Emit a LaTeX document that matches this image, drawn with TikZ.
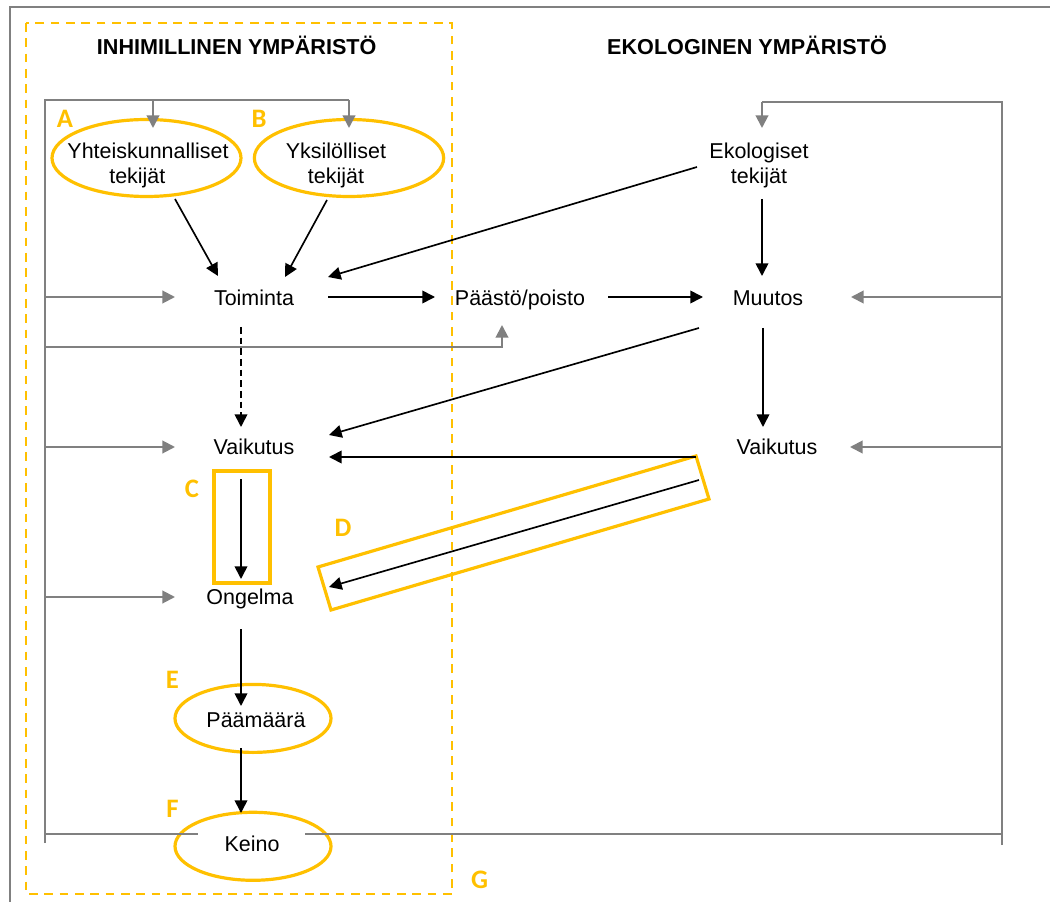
\documentclass[tikz,border=0pt]{standalone}
\usepackage{fontspec}
\setmainfont{Liberation Sans}
\newfontfamily\lblfont{Carlito}
\usetikzlibrary{arrows.meta,calc,shapes.geometric}
\definecolor{ygold}{HTML}{FFC000}
\definecolor{ggray}{HTML}{808080}
\begin{document}
\begin{tikzpicture}[x=0.75pt,y=-0.75pt,
  txt/.style={font=\fontsize{16.1}{18.75}\selectfont, inner sep=0pt, anchor=base},
  txtii/.style={font=\fontsize{16.1}{18.75}\selectfont, inner sep=0pt, align=center, anchor=center},
  ttl/.style={font=\bfseries\fontsize{16.2}{19}\selectfont, inner sep=0pt, anchor=base},
  lab/.style={font=\lblfont\bfseries\fontsize{20}{24}\selectfont, text=ygold, inner sep=0pt, anchor=base},
  yell/.style={ellipse, draw=ygold, line width=2.4pt, inner sep=0pt},
  ybox/.style={draw=ygold, line width=2.4pt},
  arr/.style={-{Triangle[length=9.5pt,width=9.5pt]}, line width=1.25pt},
  gline/.style={draw=ggray, line width=1.5pt},
  garr/.style={draw=ggray, line width=1.5pt, -{Triangle[length=9.5pt,width=9.5pt]}}]
\useasboundingbox (0,0) rectangle (1050,902);
% outer frame
\draw[ggray, line width=1.4pt] (10,902) -- (10,7) -- (1050,7);
% dashed human-environment box
\draw[ygold, line width=1.5pt, dash pattern=on 6.5pt off 5pt] (26,23) rectangle (452,894);
% titles
\node[ttl] (t1) at (236.7,55) {INHIMILLINEN YMPÄRISTÖ};
\node[ttl] (t2) at (747,55) {EKOLOGINEN YMPÄRISTÖ};
% ellipses
\node[yell, minimum width=141.75pt, minimum height=57.75pt] (yhtE) at (146.5,158) {};
\node[yell, minimum width=142pt, minimum height=57.75pt] (yksE) at (349,158) {};
\node[yell, minimum width=117pt, minimum height=51pt] (pmE) at (253,718.4) {};
\node[yell, minimum width=117pt, minimum height=51pt] (keiE) at (253,846.3) {};
% texts
\node[txtii] (yht) at (148,165) {Yhteiskunnalliset\\tekijät\hspace*{16pt}};
\node[txtii] (yks) at (336,165) {Yksilölliset\\tekijät};
\node[txtii] (eko) at (759,165) {Ekologiset\\tekijät};
\node[txt] (toim) at (254,306) {Toiminta};
\node[txt] (paa) at (520,306) {Päästö/poisto};
\node[txt] (muu) at (768,306) {Muutos};
\node[txt] (vai1) at (254,455) {Vaikutus};
\node[txt] (vai2) at (777,455) {Vaikutus};
\node[txt] (ong) at (250,604) {Ongelma};
\node[txt] (pm) at (256,727) {Päämäärä};
\node[txt] (kei) at (252,851) {Keino};
% letters
\node[lab] (lA) at (65,128) {A};
\node[lab] (lB) at (259,128) {B};
\node[lab] (lC) at (192,497) {C};
\node[lab] (lD) at (343,536) {D};
\node[lab] (lE) at (172.5,688) {E};
\node[lab] (lF) at (172.5,817) {F};
\node[lab] (lG) at (479.5,888) {G};
% highlight boxes
\draw[ybox] (214,471) rectangle (270,583);
\draw[ybox] (318,567) -- (696,456) -- (709,499) -- (331,610) -- cycle;
% grey feedback loops
\coordinate (lTop) at (45,100);
\coordinate (lBot) at (45,843);
\coordinate (rTop) at (1002,102);
\coordinate (rBot) at (1002,845);
\draw[gline] (lBot) -- (lTop) -- (lTop -| yksE);
\draw[gline] (rBot) -- (rTop) -- ($(rTop -| eko)+(3,0)$);
\draw[gline] ($(lTop |- keiE)+(0,-12)$) -- ($(keiE)+(-55,-12)$);
\draw[gline] ($(keiE)+(52,-12)$) -- ($(rTop |- keiE)+(0,-12)$);
\draw[garr] ($(lTop)+(108,0)$) -- ($(yhtE)+(6.5,-30)$);
\draw[garr] (lTop -| yksE) -- ($(yksE)+(0,-30)$);
\draw[garr] ($(rTop -| eko)+(3,0)$) -- ($(eko)+(3,-37)$);
\draw[garr] ($(lTop |- toim.base)+(0,-9)$) -- ($(toim.base)+(-79,-9)$);
\draw[garr] ($(lTop |- vai1.base)+(0,-8)$) -- ($(vai1.base)+(-79,-8)$);
\draw[garr] ($(lTop |- ong.base)+(0,-7)$) -- ($(ong.base)+(-75,-7)$);
\draw[garr] ($(lTop |- toim.base)+(0,41)$) -| ($(paa.base)+(-18,19)$);
\draw[garr] ($(rTop |- muu.base)+(0,-9)$) -- ($(muu.base)+(83,-9)$);
\draw[garr] ($(rTop |- vai2.base)+(0,-8)$) -- ($(vai2.base)+(73,-8)$);
% black arrows
\draw[arr] ($(yhtE)+(28.5,41)$) -- ($(toim.base)+(-36,-30)$);
\draw[arr] ($(yksE)+(-22,42)$) -- ($(toim.base)+(31,-29)$);
\draw[arr] ($(eko)+(-62,2)$) -- ($(toim.base)+(74,-29)$);
\draw[arr] ($(toim.base)+(74,-9)$) -- ($(paa.base)+(-85,-9)$);
\draw[arr] ($(paa.base)+(88,-9)$) -- ($(muu.base)+(-65,-9)$);
\draw[arr] ($(eko)+(3,34)$) -- ($(muu.base)+(-6,-30)$);
\draw[arr, dash pattern=on 5pt off 3pt] ($(toim.base)+(-13,21)$) -- ($(vai1.base)+(-13,-28)$);
\draw[arr] ($(muu.base)+(-69,22)$) -- ($(vai1.base)+(75,-20)$);
\draw[arr] ($(vai2.base)+(-81,2)$) -- ($(vai1.base)+(75,2)$);
\draw[arr] ($(muu.base)+(-5,22)$) -- ($(vai2.base)+(-14,-28)$);
\draw[arr] ($(vai1.base)+(-13,24)$) -- ($(ong.base)+(-9,-25)$);
\draw[arr] ($(vai2.base)+(-78,25)$) -- ($(ong.base)+(79,-17)$);
\draw[arr] ($(ong.base)+(-9,25)$) -- ($(pm.base)+(-15,-21)$);
\draw[arr] ($(pm.base)+(-15,21)$) -- ($(kei.base)+(-11,-38)$);
\end{tikzpicture}
\end{document}
